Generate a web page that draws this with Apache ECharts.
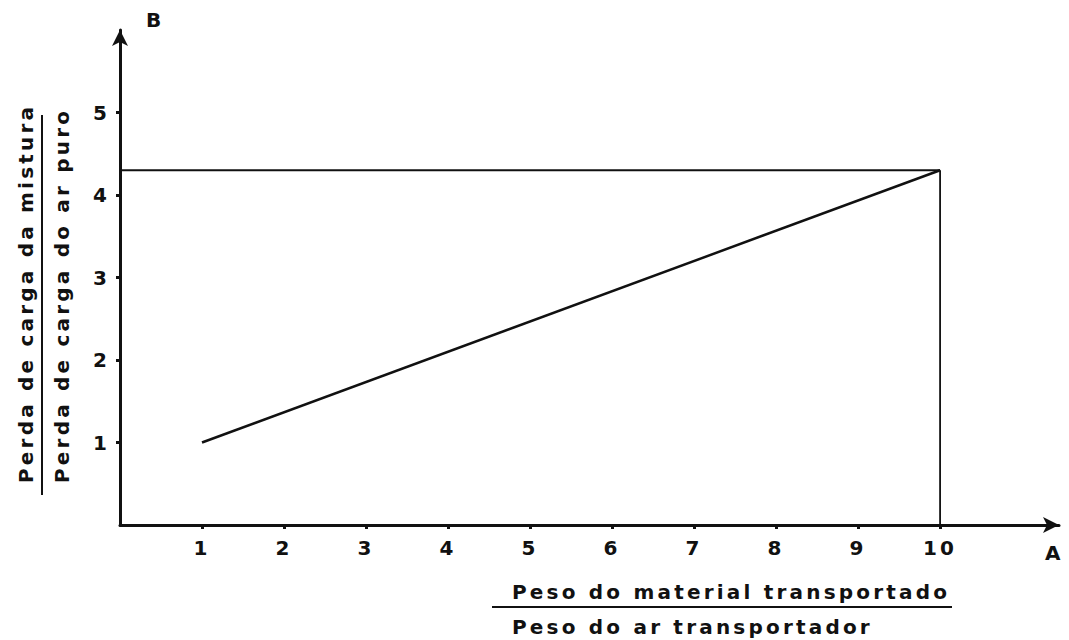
<!DOCTYPE html>
<html>
<head>
<meta charset="utf-8">
<script src="https://cdn.jsdelivr.net/npm/echarts@6/dist/echarts.min.js"></script>
<style>
html, body { margin: 0; padding: 0; background: #fff; }
#chart { width: 1069px; height: 640px; }
#chart text { letter-spacing: 3.2px; }
</style>
</head>
<body>
<div id="chart"></div>
<script>
// Data
var xTicks = [1, 2, 3, 4, 5, 6, 7, 8, 9, 10];
var yTicks = [1, 2, 3, 4, 5];
var ratioLine = [[1, 1], [10, 4.3]];
var levelLine = [[0, 4.3], [10, 4.3]];
var dropLine = [[10, 0], [10, 4.3]];
var xTitleTop = 'Peso do material transportado';
var xTitleBottom = 'Peso do ar transportador';
var yTitleTop = 'Perda de carga da mistura';
var yTitleBottom = 'Perda de carga do ar puro';
var xAxisLetter = 'A';
var yAxisLetter = 'B';

var ink = '#111';
var font = 'DejaVu Sans';

var chart = echarts.init(document.getElementById('chart'), null, { renderer: 'svg' });

function lineSeries(data, width) {
  return {
    type: 'line',
    data: data,
    symbol: 'none',
    silent: true,
    lineStyle: { color: ink, width: width },
    z: 3
  };
}

chart.setOption({
  animation: false,
  backgroundColor: '#fff',
  grid: { left: 120, top: 30, width: 939, height: 495, containLabel: false },
  xAxis: {
    type: 'value',
    min: 0,
    max: 11.45,
    interval: 1,
    splitLine: { show: false },
    axisLine: {
      show: true,
      onZero: false,
      symbol: ['none', 'arrow'],
      symbolSize: [12, 16],
      lineStyle: { color: ink, width: 3 }
    },
    axisTick: { show: true, customValues: xTicks, length: 4, lineStyle: { color: ink, width: 3 } },
    axisLabel: {
      customValues: xTicks,
      margin: 13,
      color: ink,
      fontFamily: font,
      fontWeight: 'bold',
      fontSize: 20
    }
  },
  yAxis: {
    type: 'value',
    min: 0,
    max: 6,
    interval: 1,
    splitLine: { show: false },
    axisLine: {
      show: true,
      onZero: false,
      symbol: ['none', 'arrow'],
      symbolSize: [12, 16],
      lineStyle: { color: ink, width: 3 }
    },
    axisTick: { show: true, customValues: yTicks, length: 4, lineStyle: { color: ink, width: 3 } },
    axisLabel: {
      customValues: yTicks,
      margin: 10,
      color: ink,
      fontFamily: font,
      fontWeight: 'bold',
      fontSize: 20
    }
  },
  series: [
    lineSeries(ratioLine, 2.5),
    lineSeries(levelLine, 1.8),
    lineSeries(dropLine, 1.8)
  ],
  graphic: [
    { type: 'text', x: 146, y: 10, style: { text: yAxisLetter, fill: ink, font: 'bold 20px ' + font } },
    { type: 'text', x: 1045, y: 543, style: { text: xAxisLetter, fill: ink, font: 'bold 20px ' + font } },
    { type: 'text', x: 512, y: 592, style: { text: xTitleTop, fill: ink, font: 'bold 20px ' + font, textAlign: 'left', textVerticalAlign: 'middle' } },
    { type: 'line', shape: { x1: 492, y1: 607, x2: 952, y2: 607 }, style: { stroke: ink, lineWidth: 2 } },
    { type: 'text', x: 512, y: 627, style: { text: xTitleBottom, fill: ink, font: 'bold 20px ' + font, textAlign: 'left', textVerticalAlign: 'middle' } },
    { type: 'text', x: 26, y: 483, rotation: Math.PI / 2, style: { text: yTitleTop, fill: ink, font: 'bold 20px ' + font, textAlign: 'left', textVerticalAlign: 'middle' } },
    { type: 'line', shape: { x1: 42, y1: 115, x2: 42, y2: 495 }, style: { stroke: ink, lineWidth: 2 } },
    { type: 'text', x: 62, y: 483, rotation: Math.PI / 2, style: { text: yTitleBottom, fill: ink, font: 'bold 20px ' + font, textAlign: 'left', textVerticalAlign: 'middle' } }
  ]
});
</script>
</body>
</html>
